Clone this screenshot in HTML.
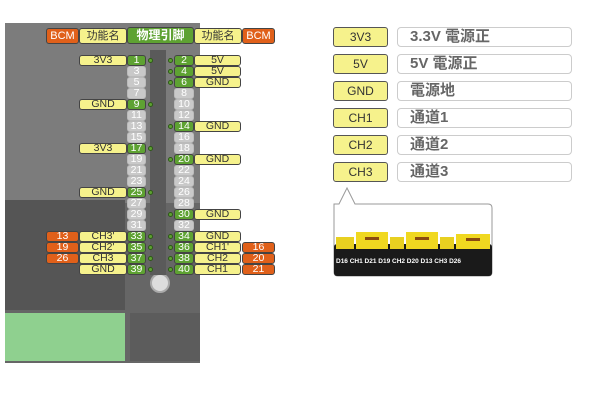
<!DOCTYPE html>
<html><head><meta charset="utf-8"><style>
body{margin:0;width:600px;height:400px;background:#fff;position:relative;overflow:hidden;font-family:"Liberation Sans","Noto Sans CJK SC",sans-serif}
.a{position:absolute;box-sizing:border-box}
.b{position:absolute;box-sizing:border-box;border:1px solid #444;border-radius:3px;height:11px;font-size:10.5px;line-height:9px;text-align:center}
.y{background:#f6f28c;color:#333}
.g{background:#5ea232;color:#fff}
.o{background:#e0601a;color:#fff}
.x{background:#c9c9c9;color:#fff;border-color:#bbb}
.dot{position:absolute;width:5px;height:5px;border-radius:50%;background:#5ea232;border:1px solid #2d5a16;box-sizing:border-box}
.ly{position:absolute;left:333px;width:55px;height:20px;background:#f6f28c;border:1px solid #555;border-radius:3px;box-sizing:border-box;font-size:12px;line-height:18px;text-align:center;color:#333}
.lg{position:absolute;left:397px;width:175px;height:20px;border:1px solid #ccc;border-radius:4px;box-sizing:border-box;font-size:15px;font-weight:bold;line-height:18px;color:#666;padding-left:12px}
</style></head><body>
<!-- board -->
<div class="a" style="left:5px;top:23px;width:195px;height:340px;background:#666"></div>
<div class="a" style="left:5px;top:23px;width:195px;height:180px;background:#7c7c7c"></div>
<div class="a" style="left:5px;top:200px;width:120px;height:110px;background:#555"></div>
<div class="a" style="left:5px;top:313px;width:120px;height:48px;background:#8fd08f"></div>
<div class="a" style="left:130px;top:313px;width:70px;height:48px;background:#5c5c5c"></div>
<div class="a" style="left:150px;top:273px;width:20px;height:20px;border-radius:50%;background:#ddd;border:2px solid #aaa"></div>
<div class="a" style="left:150px;top:50px;width:16px;height:225px;background:#5a5a5a"></div>
<!-- header -->
<div class="b o" style="left:46px;top:28px;width:33px;height:16px;line-height:14px;font-size:11px">BCM</div>
<div class="b y" style="left:79px;top:28px;width:48px;height:16px;line-height:14px;font-size:11px">功能名</div>
<div class="b g" style="left:127px;top:27px;width:67px;height:17px;line-height:15px;font-size:12px;font-weight:bold">物理引脚</div>
<div class="b y" style="left:194px;top:28px;width:48px;height:16px;line-height:14px;font-size:11px">功能名</div>
<div class="b o" style="left:242px;top:28px;width:33px;height:16px;line-height:14px;font-size:11px">BCM</div>
<!-- pins left -->
<div class="b g" style="left:127px;top:55px;width:19px">1</div>
<div class="b x" style="left:127px;top:66px;width:19px">3</div>
<div class="b x" style="left:127px;top:77px;width:19px">5</div>
<div class="b x" style="left:127px;top:88px;width:19px">7</div>
<div class="b g" style="left:127px;top:99px;width:19px">9</div>
<div class="b x" style="left:127px;top:110px;width:19px">11</div>
<div class="b x" style="left:127px;top:121px;width:19px">13</div>
<div class="b x" style="left:127px;top:132px;width:19px">15</div>
<div class="b g" style="left:127px;top:143px;width:19px">17</div>
<div class="b x" style="left:127px;top:154px;width:19px">19</div>
<div class="b x" style="left:127px;top:165px;width:19px">21</div>
<div class="b x" style="left:127px;top:176px;width:19px">23</div>
<div class="b g" style="left:127px;top:187px;width:19px">25</div>
<div class="b x" style="left:127px;top:198px;width:19px">27</div>
<div class="b x" style="left:127px;top:209px;width:19px">29</div>
<div class="b x" style="left:127px;top:220px;width:19px">31</div>
<div class="b g" style="left:127px;top:231px;width:19px">33</div>
<div class="b g" style="left:127px;top:242px;width:19px">35</div>
<div class="b g" style="left:127px;top:253px;width:19px">37</div>
<div class="b g" style="left:127px;top:264px;width:19px">39</div>
<!-- pins right -->
<div class="b g" style="left:174px;top:55px;width:20px">2</div>
<div class="b g" style="left:174px;top:66px;width:20px">4</div>
<div class="b g" style="left:174px;top:77px;width:20px">6</div>
<div class="b x" style="left:174px;top:88px;width:20px">8</div>
<div class="b x" style="left:174px;top:99px;width:20px">10</div>
<div class="b x" style="left:174px;top:110px;width:20px">12</div>
<div class="b g" style="left:174px;top:121px;width:20px">14</div>
<div class="b x" style="left:174px;top:132px;width:20px">16</div>
<div class="b x" style="left:174px;top:143px;width:20px">18</div>
<div class="b g" style="left:174px;top:154px;width:20px">20</div>
<div class="b x" style="left:174px;top:165px;width:20px">22</div>
<div class="b x" style="left:174px;top:176px;width:20px">24</div>
<div class="b x" style="left:174px;top:187px;width:20px">26</div>
<div class="b x" style="left:174px;top:198px;width:20px">28</div>
<div class="b g" style="left:174px;top:209px;width:20px">30</div>
<div class="b x" style="left:174px;top:220px;width:20px">32</div>
<div class="b g" style="left:174px;top:231px;width:20px">34</div>
<div class="b g" style="left:174px;top:242px;width:20px">36</div>
<div class="b g" style="left:174px;top:253px;width:20px">38</div>
<div class="b g" style="left:174px;top:264px;width:20px">40</div>
<!-- dots -->
<div class="dot" style="left:148px;top:58px"></div><div class="dot" style="left:168px;top:58px"></div>
<div class="dot" style="left:168px;top:69px"></div><div class="dot" style="left:168px;top:80px"></div>
<div class="dot" style="left:148px;top:102px"></div><div class="dot" style="left:168px;top:124px"></div>
<div class="dot" style="left:148px;top:146px"></div><div class="dot" style="left:168px;top:157px"></div>
<div class="dot" style="left:148px;top:190px"></div><div class="dot" style="left:168px;top:212px"></div>
<div class="dot" style="left:148px;top:234px"></div><div class="dot" style="left:168px;top:234px"></div>
<div class="dot" style="left:148px;top:245px"></div><div class="dot" style="left:168px;top:245px"></div>
<div class="dot" style="left:148px;top:256px"></div><div class="dot" style="left:168px;top:256px"></div>
<div class="dot" style="left:148px;top:267px"></div><div class="dot" style="left:168px;top:267px"></div>
<!-- left function names -->
<div class="b y" style="left:79px;top:55px;width:48px">3V3</div>
<div class="b y" style="left:79px;top:99px;width:48px">GND</div>
<div class="b y" style="left:79px;top:143px;width:48px">3V3</div>
<div class="b y" style="left:79px;top:187px;width:48px">GND</div>
<div class="b y" style="left:79px;top:231px;width:48px">CH3'</div>
<div class="b y" style="left:79px;top:242px;width:48px">CH2'</div>
<div class="b y" style="left:79px;top:253px;width:48px">CH3</div>
<div class="b y" style="left:79px;top:264px;width:48px">GND</div>
<div class="b o" style="left:46px;top:231px;width:33px">13</div>
<div class="b o" style="left:46px;top:242px;width:33px">19</div>
<div class="b o" style="left:46px;top:253px;width:33px">26</div>
<!-- right function names -->
<div class="b y" style="left:194px;top:55px;width:47px">5V</div>
<div class="b y" style="left:194px;top:66px;width:47px">5V</div>
<div class="b y" style="left:194px;top:77px;width:47px">GND</div>
<div class="b y" style="left:194px;top:121px;width:47px">GND</div>
<div class="b y" style="left:194px;top:154px;width:47px">GND</div>
<div class="b y" style="left:194px;top:209px;width:47px">GND</div>
<div class="b y" style="left:194px;top:231px;width:47px">GND</div>
<div class="b y" style="left:194px;top:242px;width:47px">CH1'</div>
<div class="b y" style="left:194px;top:253px;width:47px">CH2</div>
<div class="b y" style="left:194px;top:264px;width:47px">CH1</div>
<div class="b o" style="left:242px;top:242px;width:33px">16</div>
<div class="b o" style="left:242px;top:253px;width:33px">20</div>
<div class="b o" style="left:242px;top:264px;width:33px">21</div>
<!-- legend -->
<div class="ly" style="top:27px">3V3</div><div class="lg" style="top:27px">3.3V 電源正</div>
<div class="ly" style="top:54px">5V</div><div class="lg" style="top:54px">5V 電源正</div>
<div class="ly" style="top:81px">GND</div><div class="lg" style="top:81px">電源地</div>
<div class="ly" style="top:108px">CH1</div><div class="lg" style="top:108px">通道1</div>
<div class="ly" style="top:135px">CH2</div><div class="lg" style="top:135px">通道2</div>
<div class="ly" style="top:162px">CH3</div><div class="lg" style="top:162px">通道3</div>
<svg class="a" style="left:330px;top:184px" width="170" height="96">
<path d="M4 20 L4 88 Q4 92 8 92 L158 92 Q162 92 162 88 L162 24 Q162 20 158 20 L25 20 L17 4 L9 20 Z" fill="#fff" stroke="#999" stroke-width="1"/>
<rect x="4" y="60" width="158" height="32" rx="3" fill="#1a1a1a"/>
<rect x="6" y="53" width="18" height="12" fill="#e8d020"/>
<rect x="26" y="48" width="32" height="17" fill="#f0d820"/>
<rect x="60" y="53" width="14" height="12" fill="#e8d020"/>
<rect x="76" y="48" width="32" height="17" fill="#f0d820"/>
<rect x="110" y="53" width="14" height="12" fill="#e8d020"/>
<rect x="126" y="50" width="34" height="15" fill="#f0d820"/>
<rect x="35" y="53" width="14" height="3" fill="#8a4a10"/><rect x="85" y="53" width="14" height="3" fill="#8a4a10"/><rect x="136" y="54" width="14" height="3" fill="#8a4a10"/>
<text x="6" y="79" font-size="6.5" font-weight="bold" fill="#fff" font-family="Liberation Sans">D16 CH1 D21 D19 CH2 D20 D13 CH3 D26</text>
</svg>
</body></html>
